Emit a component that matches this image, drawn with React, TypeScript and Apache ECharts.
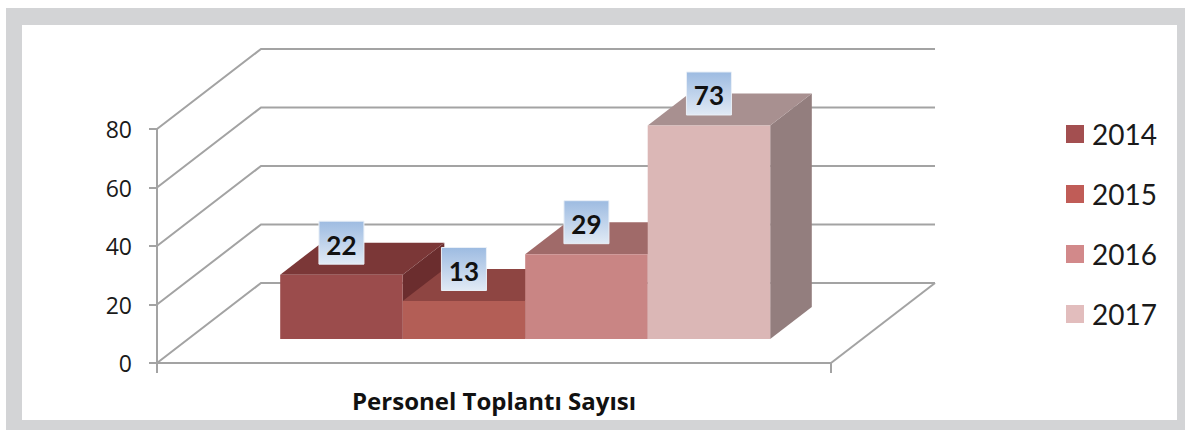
import React, { useEffect, useRef } from "react";
import * as echarts from "echarts";

const categories = ["Personel Toplantı Sayısı"];
const years = ["2014", "2015", "2016", "2017"];
const values = [22, 13, 29, 73];
const yTicks = [0, 20, 40, 60, 80];

const legendColors = ["#a34f50", "#c05c57", "#d2898a", "#e2bdbd"];
const frontColors = ["#9b4c4c", "#b35e56", "#c98584", "#dbb7b6"];
const topColors = ["#7b3737", "#8e4542", "#a06a69", "#a89090"];
const sideColors = ["#6b2d2e", "#7d3a37", "#8b5a59", "#937e7e"];

const DX = 104;
const DY = -80;
const BAR_D0 = 0.3;
const BAR_D1 = 0.7;
const BAR_GROUP = 0.727;
const LINE = "#a3a3a3";
const FONT = "Lato";
const FONT2 = "Open Sans";

export default function App() {
  const ref = useRef<HTMLDivElement>(null);

  useEffect(() => {
    if (!ref.current) return;
    const chart = echarts.init(ref.current, null, { renderer: "svg" });

    const wallSeries: any = {
      type: "custom",
      name: "walls",
      silent: true,
      z: 1,
      data: yTicks.map((v) => [0, v]),
      renderItem: (params: any, api: any) => {
        const v = api.value(1);
        const p = api.coord([0, v]);
        const cs = params.coordSys;
        const x0 = cs.x;
        const x1 = cs.x + cs.width;
        const y = p[1];
        const children: any[] = [
          {
            type: "polyline",
            shape: { points: [[x0, y], [x0 + DX, y + DY], [x1 + DX, y + DY]] },
            style: { stroke: LINE, lineWidth: 2, fill: "none" },
          },
        ];
        if (v === 0) {
          children.push({
            type: "line",
            shape: { x1: x1, y1: y, x2: x1 + DX, y2: y + DY },
            style: { stroke: LINE, lineWidth: 2 },
          });
        }
        return { type: "group", children };
      },
    };

    const barSeries = years.map((yr, i) => ({
      type: "custom",
      name: yr,
      z: 2,
      itemStyle: { color: legendColors[i] },
      data: [[0, values[i]]],
      renderItem: (params: any, api: any) => {
        const v = api.value(1);
        const top = api.coord([0, v]);
        const base = api.coord([0, 0]);
        const band = api.size([1, 0])[0];
        const n = years.length;
        const bw = (band * BAR_GROUP) / n;
        const fx = DX * BAR_D0;
        const fy = DY * BAR_D0;
        const ddx = DX * (BAR_D1 - BAR_D0);
        const ddy = DY * (BAR_D1 - BAR_D0);
        const xs = top[0] - (bw * n) / 2 + i * bw + fx;
        const xe = xs + bw;
        const yt = top[1] + fy;
        const yb = base[1] + fy;
        const lx = xs + bw / 2;
        const ly = yt + ddy;
        return {
          type: "group",
          children: [
            {
              type: "polygon",
              shape: { points: [[xe, yt], [xe + ddx, yt + ddy], [xe + ddx, yb + ddy], [xe, yb]] },
              style: { fill: sideColors[i] },
            },
            {
              type: "polygon",
              shape: { points: [[xs, yt], [xe, yt], [xe + ddx, yt + ddy], [xs + ddx, yt + ddy]] },
              style: { fill: topColors[i] },
            },
            {
              type: "rect",
              shape: { x: xs, y: yt, width: bw, height: yb - yt },
              style: { fill: frontColors[i] },
            },
            {
              type: "rect",
              z2: 100,
              shape: { x: lx - 22.5, y: ly - 21.5, width: 45, height: 43 },
              style: {
                fill: new echarts.graphic.LinearGradient(0, 0, 0, 1, [
                  { offset: 0, color: "#9dbbe1" },
                  { offset: 1, color: "#e1eaf5" },
                ]),
                stroke: "#eaf0f7",
                lineWidth: 1,
              },
            },
            {
              type: "text",
              z2: 101,
              x: lx,
              y: ly + 2,
              style: {
                text: String(v),
                fill: "#111111",
                fontSize: 26,
                fontWeight: "bold",
                fontFamily: FONT,
                align: "center",
                verticalAlign: "middle",
              },
            },
          ],
        };
      },
    }));

    const option: any = {
      animation: false,
      backgroundColor: "#ffffff",
      grid: { left: 157, top: 129, width: 674, height: 234 },
      xAxis: {
        type: "category",
        data: categories,
        boundaryGap: true,
        axisLine: { show: true, lineStyle: { color: LINE, width: 2 } },
        axisTick: { show: true, length: 10, lineStyle: { color: LINE, width: 2 } },
        axisLabel: {
          margin: 25,
          fontSize: 24,
          fontWeight: "bold",
          fontFamily: FONT2,
          color: "#111111",
        },
        splitLine: { show: false },
      },
      yAxis: {
        type: "value",
        min: 0,
        max: 80,
        interval: 20,
        axisLine: { show: true, lineStyle: { color: LINE, width: 2 } },
        axisTick: { show: true, length: 8, lineStyle: { color: LINE, width: 2 } },
        axisLabel: {
          margin: 25,
          fontSize: 23,
          fontFamily: FONT2,
          color: "#1a1a1a",
          padding: [4, 0, 0, 0],
        },
        splitLine: { show: false },
      },
      legend: {
        data: years,
        orient: "vertical",
        left: 1066,
        top: 120,
        padding: 0,
        itemWidth: 18,
        itemHeight: 18,
        itemGap: 32,
        icon: "rect",
        textStyle: {
          fontSize: 28,
          fontFamily: FONT,
          color: "#1a1a1a",
          lineHeight: 28,
          padding: [0, 0, 0, 3],
        },
      },
      graphic: [
        { type: "rect", silent: true, shape: { x: 6, y: 8, width: 16, height: 422 }, style: { fill: "#d3d4d6" } },
        { type: "rect", silent: true, shape: { x: 6, y: 8, width: 1179, height: 17 }, style: { fill: "#d3d4d6" } },
        { type: "rect", silent: true, shape: { x: 1177, y: 8, width: 8, height: 422 }, style: { fill: "#d3d4d6" } },
        { type: "rect", silent: true, shape: { x: 6, y: 420, width: 1179, height: 10 }, style: { fill: "#d3d4d6" } },
      ],
      series: [wallSeries, ...barSeries],
    };

    chart.setOption(option);
    return () => {
      chart.dispose();
    };
  }, []);

  return (
    <div
      ref={ref}
      style={{ position: "absolute", left: 0, top: 0, width: 1185, height: 430 }}
    />
  );
}
